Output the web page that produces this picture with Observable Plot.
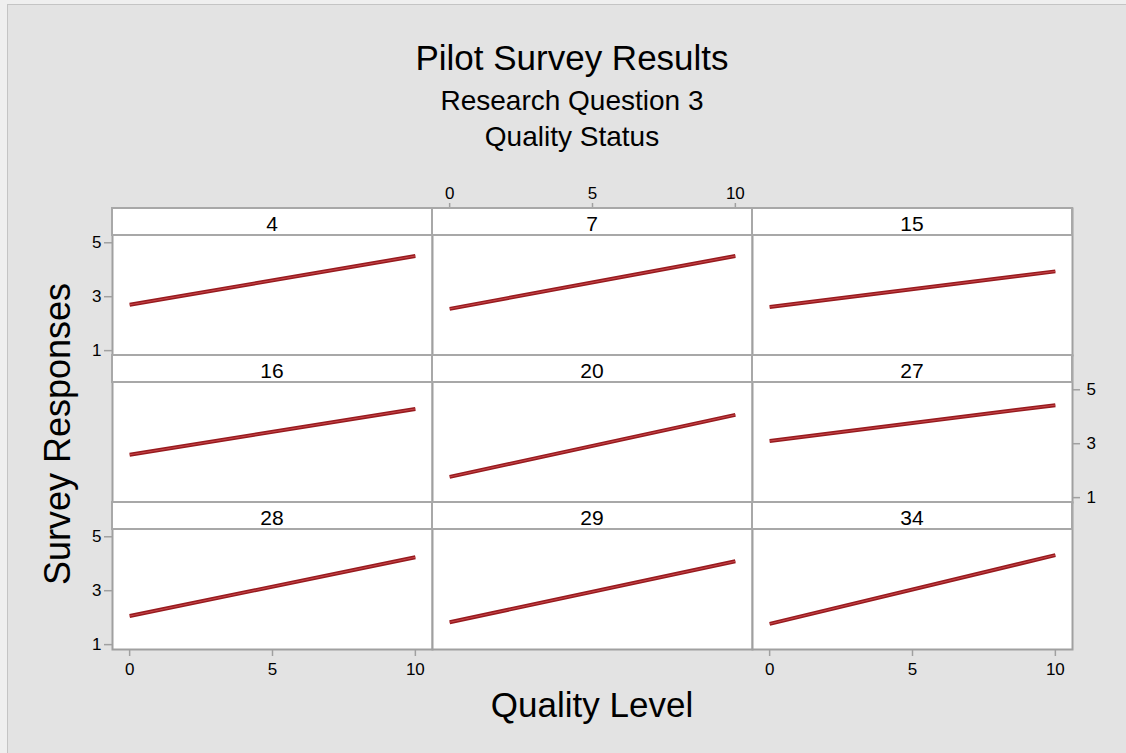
<!DOCTYPE html>
<html><head><meta charset="utf-8">
<script src="https://cdn.jsdelivr.net/npm/d3@7"></script>
<script src="https://cdn.jsdelivr.net/npm/@observablehq/plot@0.6"></script>
<style>
html,body{margin:0;padding:0;}
body{width:1126px;height:753px;background:#efefef;position:relative;overflow:hidden;font-family:"Liberation Sans",Arial,sans-serif;}
#bg{position:absolute;left:7px;top:4px;right:0;bottom:0;background:#e3e3e3;border-left:1px solid #c4c4c4;border-top:1px solid #c4c4c4;}
.t{position:absolute;white-space:nowrap;color:#000;text-align:center;}
.strip{position:absolute;box-sizing:border-box;border:2px solid #a8a8a8;background:#fff;text-align:center;font-size:21px;line-height:29px;color:#000;}
.pp{position:absolute;}
.pp svg g[aria-label$="tick label"], .pp svg g[aria-label$="tick label"] text{font-size:17px !important;}
</style></head><body>
<div id="bg"></div>
<div id="root"></div>
<script>
// ---- data ----
const panelIds = ["4", "7", "15", "16", "20", "27", "28", "29", "34"];
const qualityLevels = [0, 10];
const responseAtLow = [2.70, 2.55, 2.62, 2.59, 1.77, 3.10, 2.06, 1.83, 1.77];
const responseAtHigh = [4.51, 4.51, 3.94, 4.29, 4.07, 4.43, 4.24, 4.09, 4.32];
const xTicks = [0, 5, 10];
const yTicks = [1, 3, 5];
const titleText = "Pilot Survey Results";
const subtitle1 = "Research Question 3";
const subtitle2 = "Quality Status";
const xLabel = "Quality Level";
const yLabel = "Survey Responses";

// ---- layout ----
const left0 = 112, top0 = 208, colW = 320, stripH = 27, plotH = 120, rowH = stripH + plotH, M = 40;
const xDomain = [-0.6, 10.6];
const yLo = 0.82, yHi = 5.27;
const yTopFull = yHi + (yHi - yLo) * stripH / plotH;
const font = '"Liberation Sans", Arial, sans-serif';
const grey = "#a0a0a0";

const root = document.getElementById("root");

function addText(txt, fs, cx, baseline, extra) {
  const d = document.createElement("div");
  d.className = "t";
  d.textContent = txt;
  d.style.fontSize = fs + "px";
  d.style.lineHeight = fs + "px";
  d.style.width = "700px";
  d.style.left = (cx - 350) + "px";
  d.style.top = (baseline - 0.8465 * fs) + "px";
  if (extra) Object.assign(d.style, extra);
  document.body.appendChild(d);
  return d;
}

addText(titleText, 35, 572, 70);
addText(subtitle1, 28, 572, 110.7);
addText(subtitle2, 28, 572, 147);
addText(xLabel, 35, 592, 717);
// rotated y label
(function () {
  const fs = 36, W = 500, cx = 57.5, cy = 434;
  const d = document.createElement("div");
  d.className = "t";
  d.textContent = yLabel;
  Object.assign(d.style, {
    fontSize: fs + "px", lineHeight: fs + "px", width: W + "px", height: fs + "px",
    left: (cx - W / 2) + "px", top: (cy - fs / 2) + "px", transform: "rotate(-90deg)"
  });
  document.body.appendChild(d);
})();

panelIds.forEach((id, i) => {
  const r = Math.floor(i / 3), c = i % 3;
  const data = qualityLevels.map((q, k) => ({x: q, y: k === 0 ? responseAtLow[i] : responseAtHigh[i]}));
  const xTop = r === 0 && c === 1;
  const xBottom = r === 2 && (c === 0 || c === 2);
  const yLeft = c === 0 && (r === 0 || r === 2);
  const yRight = c === 2 && r === 1;
  const marks = [
    Plot.frame({fill: "white", stroke: grey, strokeWidth: 2}),
    Plot.line(data, {x: "x", y: "y", stroke: "#971a1e", strokeWidth: 4, strokeLinecap: "butt"}),
    Plot.line(data, {x: "x", y: "y", stroke: "#c8464a", strokeWidth: 1, strokeLinecap: "butt"})
  ];
  if (xTop) marks.push(Plot.axisX(xTicks, {anchor: "top", tickSize: 6, tickPadding: 4, stroke: grey, strokeWidth: 1.5, color: "#000", fontSize: 17, label: null}));
  if (xBottom) marks.push(Plot.axisX(xTicks, {anchor: "bottom", tickSize: 7, tickPadding: 6, stroke: grey, strokeWidth: 1.5, color: "#000", fontSize: 17, label: null}));
  if (yLeft) marks.push(Plot.axisY(yTicks, {anchor: "left", tickSize: 8, tickPadding: 3, stroke: grey, strokeWidth: 1.5, color: "#000", fontSize: 17, label: null}));
  if (yRight) marks.push(Plot.axisY(yTicks, {anchor: "right", tickSize: 7, tickPadding: 7, stroke: grey, strokeWidth: 1.5, color: "#000", fontSize: 17, label: null}));
  const chart = Plot.plot({
    width: colW + 2 * M, height: rowH + 2 * M,
    marginLeft: M, marginRight: M, marginTop: M, marginBottom: M,
    x: {domain: xDomain, axis: (xTop || xBottom) ? undefined : null},
    y: {domain: [yLo, yTopFull], axis: (yLeft || yRight) ? undefined : null},
    style: {background: "transparent", fontFamily: font, overflow: "visible"},
    marks
  });
  const wrap = document.createElement("div");
  wrap.className = "pp";
  wrap.style.left = (left0 + c * colW - M) + "px";
  wrap.style.top = (top0 + r * rowH - M) + "px";
  wrap.appendChild(chart);
  root.appendChild(wrap);
});

panelIds.forEach((id, i) => {
  const r = Math.floor(i / 3), c = i % 3;
  const s = document.createElement("div");
  s.className = "strip";
  s.textContent = id;
  s.style.left = (left0 + c * colW - 1) + "px";
  s.style.top = (top0 + r * rowH - 1) + "px";
  s.style.width = (colW + 2) + "px";
  s.style.height = (stripH + 2) + "px";
  root.appendChild(s);
});
</script>
</body></html>
